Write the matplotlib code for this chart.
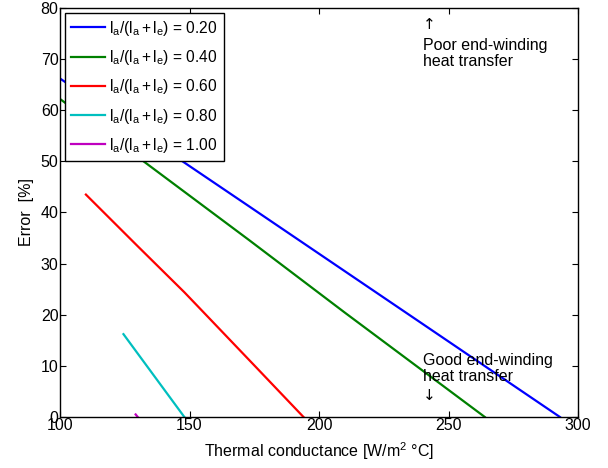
import matplotlib
matplotlib.use('Agg')
import matplotlib.pyplot as plt

plt.rcParams['font.family'] = ['Liberation Sans', 'DejaVu Sans']
plt.rcParams['mathtext.fontset'] = 'custom'
plt.rcParams['mathtext.rm'] = 'Liberation Sans'
plt.rcParams['mathtext.it'] = 'Liberation Sans'

# ratio labels and curves
ratios = ['0.20', '0.40', '0.60', '0.80', '1.00']
colors = ['#0000ff', '#008000', '#ff0000', '#00bfbf', '#bf00bf']

x_020 = [100, 173, 240, 293]
y_020 = [66.2, 41.2, 18.2, 0]
x_040 = [100, 173, 210, 264]
y_040 = [62.2, 34.6, 20.4, 0]
x_060 = [110, 130, 148, 155, 175, 194]
y_060 = [43.5, 33.4, 24.4, 20.7, 10.1, 0]
x_080 = [124.5, 148]
y_080 = [16.2, 0]
x_100 = [129.2, 130]
y_100 = [0.5, 0]

xs = [x_020, x_040, x_060, x_080, x_100]
ys = [y_020, y_040, y_060, y_080, y_100]

fig = plt.figure(figsize=(6.08, 4.68), dpi=100)
ax = fig.add_axes([0.0987, 0.109, 0.852, 0.874])

for x, y, r, c in zip(xs, ys, ratios, colors):
    ax.plot(x, y, color=c, linewidth=1.6,
            label=r'$\mathregular{l_a/(l_a+l_e)}$ = ' + r)

ax.set_xlim(100, 300)
ax.set_ylim(0, 80)
ax.set_xticks([100, 150, 200, 250, 300])
ax.set_yticks(range(0, 81, 10))
ax.tick_params(direction='in', top=True, right=True, labelsize=11.5,
               length=4, width=0.8, pad=1)
for s in ax.spines.values():
    s.set_linewidth(1.0)

ax.set_xlabel(r'Thermal conductance [W/m$^{2}$ °C]', fontsize=11.5, labelpad=5)
ax.set_ylabel('Error  [%]', fontsize=11.5, labelpad=5)

# annotations, arrows drawn with DejaVu for a taller glyph
ax.text(240, 78.3, '↑', fontsize=11, family='DejaVu Sans', va='top', ha='left')
ax.text(240, 74.2, 'Poor end-winding\nheat transfer', fontsize=11.5,
        va='top', ha='left', linespacing=1.15)
ax.text(240, 12.5, 'Good end-winding\nheat transfer', fontsize=11.5,
        va='top', ha='left', linespacing=1.1)
ax.text(240, 5.7, '↓', fontsize=11, family='DejaVu Sans', va='top', ha='left')

leg = ax.legend(loc='upper left', fontsize=11.2, handlelength=2.2,
                borderaxespad=0.3, labelspacing=0.66, handletextpad=0.25,
                fancybox=False, framealpha=1, edgecolor='black',
                borderpad=0.4)
leg.get_frame().set_linewidth(1.0)

fig.savefig('out.png', dpi=100)
